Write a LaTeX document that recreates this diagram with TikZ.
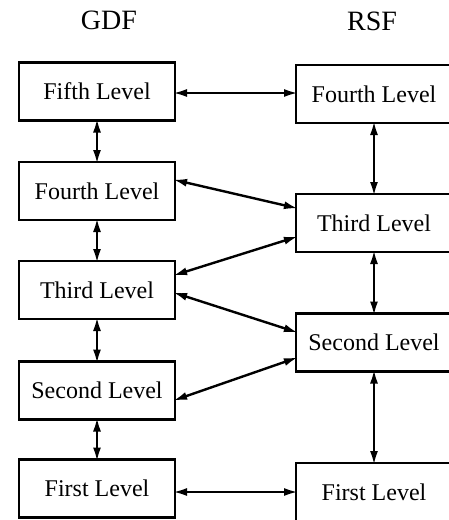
\documentclass[tikz,border=0pt]{standalone}
\usepackage{fontspec}
\setmainfont{Liberation Serif}
\usetikzlibrary{arrows.meta}

\begin{document}
\begin{tikzpicture}[x=0.5pt, y=-0.5pt,
  level/.style = {shape=rectangle, draw, line width=1.3pt, align=center, outer sep=0pt,
                  minimum width=78pt, minimum height=29pt, font=\fontsize{12}{14}\selectfont},
  head/.style = {font=\fontsize{14}{16}\selectfont},
  link/.style = {line width=1.2pt, shorten <=-1pt, shorten >=-1pt,
                 {Latex[length=7pt,width=4pt]}-{Latex[length=7pt,width=4pt]}}
    ]
  \useasboundingbox (0,0) rectangle (449,520);
  \node[head] (gdf) at (109,20) {GDF};
  \node[head] (rsf) at (372,21) {RSF};
  % GDF column
  \node[level] (g5) at (97,91.5) {Fifth Level};
  \node[level] (g4) at (97,191) {Fourth Level};
  \node[level] (g3) at (97,290) {Third Level};
  \node[level] (g2) at (97,390.5) {Second Level};
  \node[level] (g1) at (97,488.5) {First Level};
  % RSF column
  \node[level] (r4) at (374,94) {Fourth Level};
  \node[level] (r3) at (374,223) {Third Level};
  \node[level] (r2) at (374,342.5) {Second Level};
  \node[level] (r1) at (374,492) {First Level};
  % links
  \draw[link] (g5) -- (g4);
  \draw[link] (g4) -- (g3);
  \draw[link] (g3) -- (g2);
  \draw[link] (g2) -- (g1);
  \draw[link] (r4) -- (r3);
  \draw[link] (r3) -- (r2);
  \draw[link] (r2) -- (r1);
  \draw[link] ([yshift=-0.75pt]g5.east) -- ([yshift=0.5pt]r4.west);
  \draw[link] ([yshift=-1.75pt]g1.east) -- (r1.west);
  \draw[link] ([yshift=5.5pt]g4.east) -- ([yshift=7.5pt]r3.west);
  \draw[link] ([yshift=7.5pt]g3.east) -- ([yshift=-7pt]r3.west);
  \draw[link] ([yshift=-1.5pt]g3.east) -- ([yshift=5.25pt]r2.west);
  \draw[link] ([yshift=-4.75pt]g2.east) -- ([yshift=-7.75pt]r2.west);
\end{tikzpicture}
\end{document}
